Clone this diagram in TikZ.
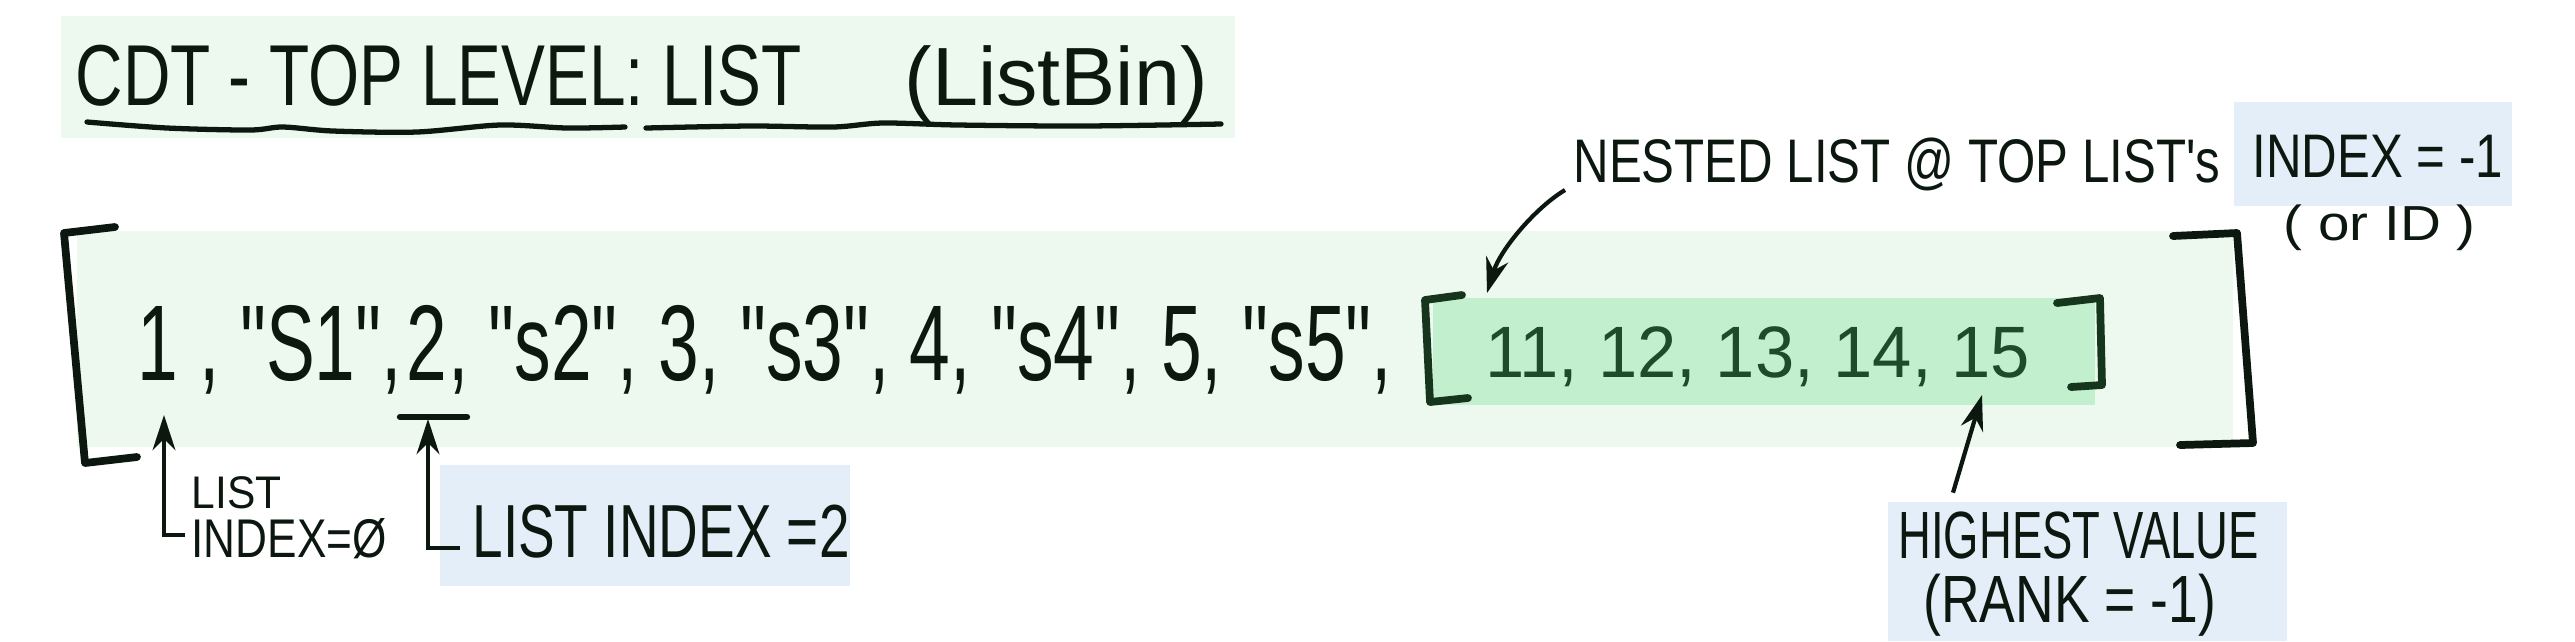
\documentclass[tikz,border=0pt]{standalone}
\usepackage{fontspec}
\setmainfont{Liberation Sans}
\newfontfamily\hand{Liberation Sans}
\usetikzlibrary{arrows.meta}
\definecolor{listbg}{HTML}{EDF9EF}
\definecolor{nestbg}{HTML}{C2F0CE}
\definecolor{notebg}{HTML}{E3EEF8}
\definecolor{ink}{HTML}{0C1710}
\definecolor{nestink}{HTML}{1E4B2A}
\newcommand{\fs}[1]{\hand\fontsize{#1}{#1}\selectfont}

\begin{document}
\begin{tikzpicture}[x=0.01cm, y=-0.01cm,
    txt/.style={anchor=base west, inner sep=0pt, text=ink, xscale=#1},
    pen/.style={ink, line width=2.2pt, line cap=round, line join=round},
    arr/.style={ink, line width=1.2pt, -{Stealth[length=10pt, width=6.5pt]}}]
  \useasboundingbox (0,0) rectangle (2575,641);

  % shaded areas
  \fill[listbg] (61,16) rectangle (1235,138);
  \fill[listbg] (77,231) rectangle (2233,447);
  \fill[nestbg] (1433,298) rectangle (2095,405);
  \fill[notebg] (2234,102) rectangle (2512,206);
  \fill[notebg] (440,465) rectangle (850,586);
  \fill[notebg] (1888,502) rectangle (2287,641);

  % heading
  \node[txt=0.76, font=\fs{24.6}] (title) at (75,105) {CDT - TOP LEVEL: LIST};
  \node[txt=1, font=\fs{23.5}] (bin) at (904,105) {(ListBin)};
  \draw[ink, line width=1.5pt, line cap=round] plot[smooth] coordinates
    {(87,122) (167,128) (250,130) (283,127) (333,131) (417,132) (500,125) (567,128) (625,127)};
  \draw[ink, line width=1.5pt, line cap=round] plot[smooth] coordinates
    {(646,128) (750,126) (833,127) (883,123) (958,125) (1083,126) (1221,124)};

  % top list
  \draw[pen] (115,227) -- (64,233) -- (85,463) -- (137,457);
  \draw[pen] (2173,236) -- (2237,233) -- (2253,443) -- (2180,445);
  \node[txt=0.68, font=\fs{30.6}] (one) at (137,380) {1};
  \node[txt=0.68, font=\fs{30.6}] (s1) at (one.base east) {\ , "S1",};
  \node[txt=0.68, font=\fs{30.6}] (two) at (406,380) {2};
  \node[txt=0.68, font=\fs{30.6}] (rest) at (two.base east) {, "s2", 3, "s3", 4, "s4", 5, "s5",};
  \draw[pen, line width=1.8pt] (two.base west) +(-6,37) -- +(61,37);

  % nested list
  \draw[pen, nestink!70!black] (1462,295) -- (1425,300) -- (1430,402) -- (1468,398);
  \draw[pen, nestink!70!black] (2057,303) -- (2100,298) -- (2102,385) -- (2071,387);
  \node[txt=0.97, font=\fs{20.7}, text=nestink] (nest) at (1485,377) {11, 12, 13, 14, 15};

  % notes
  \node[txt=0.8, font=\fs{17.5}] (nested) at (1573,182) {NESTED LIST @ TOP LIST's};
  \node[txt=0.8, font=\fs{17.5}] (idx) at (2252,177) {INDEX = -1};
  \node[txt=1.15, font=\fs{14}] (orid) at (2283,240) {( or ID )};
  \coordinate (brk) at (1487,293);
  \draw[arr] ([shift={(-8,8)}]nested.base west) .. controls (1535,208) and (1500,250) .. (brk);

  \node[txt=0.93, font=\fs{13}] (lst0) at (191,508) {LIST};
  \node[txt=0.81, font=\fs{15.5}] (idx0) at (191,557) {INDEX=Ø};
  \coordinate (one0) at (164,415);
  \draw[arr] ([shift={(-6,-22)}]idx0.base west) -| (one0);

  \node[txt=0.73, font=\fs{21.4}] (lbl2) at (472,557) {LIST INDEX =2};
  \coordinate (ul2) at (428,419);
  \draw[arr] ([shift={(-12,-9)}]lbl2.base west) -| (ul2);

  \node[txt=0.68, font=\fs{19}] (hv) at (1898,558) {HIGHEST VALUE};
  \node[txt=0.8, font=\fs{19}] (rank) at (1923,622) {(RANK = -1)};
  \coordinate (top15) at (1982,395);
  \draw[arr] ([shift={(55,-18)}]hv.north west) -- (top15);
\end{tikzpicture}
\end{document}
